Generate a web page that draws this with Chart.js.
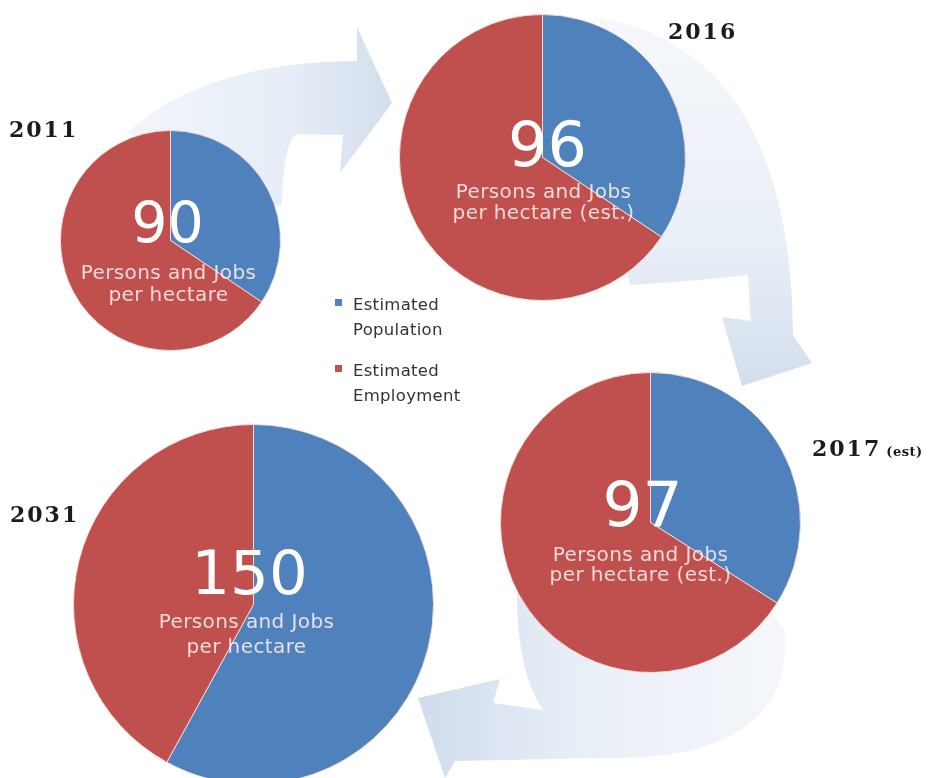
<!DOCTYPE html>
<html>
<head>
<meta charset="utf-8">
<script src="https://cdn.jsdelivr.net/npm/chart.js@4.4.1/dist/chart.umd.min.js"></script>
<style>
  html, body { margin: 0; padding: 0; background: #ffffff; }
  body { width: 936px; height: 778px; position: relative; overflow: hidden; }
  #flow { position: absolute; left: 0; top: 0; }
  .pie { position: absolute; }
  .year { position: absolute; font-family: "DejaVu Serif", serif; font-weight: bold;
          font-size: 22px; line-height: 22px; letter-spacing: 2px; color: #1b1b1b; white-space: nowrap; }
  .year small { font-size: 13px; letter-spacing: 0.5px; }
  #legend { position: absolute; left: 335px; top: 292px; font-family: "DejaVu Sans", sans-serif;
            font-size: 16.5px; line-height: 25px; color: #333333; letter-spacing: 0.3px; }
  .item { position: relative; padding-left: 18px; margin-bottom: 16px; }
  .swatch { position: absolute; left: 0; top: 7px; width: 7px; height: 7px; }
</style>
</head>
<body>
<canvas id="flow" width="936" height="778"></canvas>
<div id="legend"></div>
<script>
// Density (persons + jobs per hectare), split into its two components
const years = ['2011', '2016', '2017', '2031'];
const yearNotes = ['', '', '(est)', ''];
const seriesNames = ['Estimated Population', 'Estimated Employment'];
const population = [31, 33, 33, 87];
const employment = [59, 63, 64, 63];
const captions = [
  ['Persons and Jobs', 'per hectare'],
  ['Persons and Jobs', 'per hectare (est.)'],
  ['Persons and Jobs', 'per hectare (est.)'],
  ['Persons and Jobs', 'per hectare']
];
const seriesColors = ['#4f81bd', '#c0504d'];

// Placement of each pie and its centre text
const pieLayout = [
  { cx: 170, cy: 240, r: 110, numSize: 57, numDx: -3, numDy: 2,   capDx: -2,  capDy: 38, capStep: 22 },
  { cx: 542, cy: 157, r: 143, numSize: 62, numDx: 5,  numDy: 8,   capDx: 1,   capDy: 40, capStep: 21 },
  { cx: 650, cy: 522, r: 150, numSize: 63, numDx: -8, numDy: 3,   capDx: -10, capDy: 38, capStep: 20 },
  { cx: 253, cy: 604, r: 180, numSize: 61, numDx: -4, numDy: -11, capDx: -7,  capDy: 23, capStep: 25 }
];
// Year titles: left edge and baseline
const yearLayout = [
  { x: 9, base: 136 }, { x: 668, base: 38 }, { x: 812, base: 455 }, { x: 10, base: 521 }
];

// ---- curved flow arrows behind the pies ----
function drawFlow() {
  const ctx = document.getElementById('flow').getContext('2d');

  function fillShape(build, g) {
    ctx.beginPath();
    build();
    ctx.closePath();
    ctx.fillStyle = g;
    ctx.fill();
  }

  // 2011 -> 2016
  let g = ctx.createLinearGradient(130, 0, 395, 0);
  g.addColorStop(0, 'rgb(242,246,251)');
  g.addColorStop(0.6, 'rgb(230,237,246)');
  g.addColorStop(1, 'rgb(210,222,237)');
  fillShape(() => {
    ctx.moveTo(128, 132);
    ctx.quadraticCurveTo(205, 62, 357, 61);
    ctx.lineTo(357, 27);
    ctx.lineTo(392, 103);
    ctx.lineTo(340, 173);
    ctx.lineTo(343, 135);
    ctx.lineTo(296, 134);
    ctx.quadraticCurveTo(283, 145, 282, 205);
    ctx.lineTo(200, 210);
  }, g);

  // 2016 -> 2017
  g = ctx.createLinearGradient(0, 20, 0, 390);
  g.addColorStop(0, 'rgb(245,247,251)');
  g.addColorStop(0.6, 'rgb(233,239,247)');
  g.addColorStop(1, 'rgb(210,222,237)');
  fillShape(() => {
    ctx.moveTo(600, 18);
    ctx.quadraticCurveTo(778, 50, 792, 300);
    ctx.lineTo(793, 335);
    ctx.lineTo(812, 363);
    ctx.lineTo(742, 386);
    ctx.lineTo(722, 317);
    ctx.lineTo(751, 321);
    ctx.lineTo(748, 275);
    ctx.quadraticCurveTo(680, 282, 630, 285);
    ctx.lineTo(600, 150);
  }, g);

  // 2017 -> 2031
  g = ctx.createLinearGradient(790, 0, 415, 0);
  g.addColorStop(0, 'rgb(245,247,251)');
  g.addColorStop(0.55, 'rgb(233,239,247)');
  g.addColorStop(1, 'rgb(208,220,236)');
  fillShape(() => {
    ctx.moveTo(700, 520);
    ctx.lineTo(785, 630);
    ctx.quadraticCurveTo(795, 762, 600, 758);
    ctx.lineTo(455, 761);
    ctx.lineTo(445, 778);
    ctx.lineTo(418, 698);
    ctx.lineTo(500, 679);
    ctx.lineTo(493, 703);
    ctx.lineTo(543, 710);
    ctx.quadraticCurveTo(512, 665, 518, 560);
    ctx.lineTo(600, 520);
  }, g);
}
drawFlow();

// ---- centre text drawn over each pie ----
const centreText = {
  id: 'centreText',
  afterDatasetsDraw(chart, args, opts) {
    const arc = chart.getDatasetMeta(0).data[0];
    const ctx = chart.ctx;
    ctx.save();
    ctx.textAlign = 'center';
    ctx.textBaseline = 'alphabetic';
    ctx.fillStyle = '#ffffff';
    ctx.font = opts.numSize + 'px "DejaVu Sans", sans-serif';
    ctx.fillText(opts.number, arc.x + opts.numDx, arc.y + opts.numDy);
    ctx.font = '20px "DejaVu Sans", sans-serif';
    ctx.fillStyle = 'rgba(255,240,240,0.86)';
    if ('letterSpacing' in ctx) ctx.letterSpacing = '0.4px';
    opts.lines.forEach((t, i) => {
      ctx.fillText(t, arc.x + opts.capDx, arc.y + opts.capDy + i * opts.capStep);
    });
    ctx.restore();
  }
};

years.forEach((year, i) => {
  const L = pieLayout[i];
  const size = 2 * L.r + 1;
  const cv = document.createElement('canvas');
  cv.className = 'pie';
  cv.width = size; cv.height = size;
  cv.style.left = (L.cx - L.r - 0.5) + 'px';
  cv.style.top = (L.cy - L.r - 0.5) + 'px';
  cv.style.width = size + 'px'; cv.style.height = size + 'px';
  document.body.appendChild(cv);

  const total = population[i] + employment[i];
  new Chart(cv, {
    type: 'pie',
    data: {
      labels: seriesNames,
      datasets: [{
        data: [population[i], employment[i]],
        backgroundColor: seriesColors,
        borderColor: 'rgba(250,225,222,0.9)',
        borderWidth: 1
      }]
    },
    options: {
      responsive: false,
      animation: false,
      devicePixelRatio: 1,
      layout: { padding: 0 },
      events: [],
      plugins: {
        legend: { display: false },
        tooltip: { enabled: false },
        centreText: {
          number: String(total),
          lines: captions[i],
          numSize: L.numSize, numDx: L.numDx, numDy: L.numDy,
          capDx: L.capDx, capDy: L.capDy, capStep: L.capStep
        }
      }
    },
    plugins: [centreText]
  });

  const y = document.createElement('div');
  y.className = 'year';
  y.style.left = yearLayout[i].x + 'px';
  y.style.top = (yearLayout[i].base - 18) + 'px';
  y.textContent = year;
  if (yearNotes[i]) {
    const s = document.createElement('small');
    s.textContent = ' ' + yearNotes[i];
    y.appendChild(s);
  }
  document.body.appendChild(y);
});

// ---- legend ----
const legend = document.getElementById('legend');
seriesNames.forEach((name, i) => {
  const item = document.createElement('div');
  item.className = 'item';
  const sw = document.createElement('span');
  sw.className = 'swatch';
  sw.style.background = seriesColors[i];
  item.appendChild(sw);
  const words = name.split(' ');
  words.forEach((w, k) => {
    if (k) item.appendChild(document.createElement('br'));
    item.appendChild(document.createTextNode(w));
  });
  legend.appendChild(item);
});
</script>
</body>
</html>
